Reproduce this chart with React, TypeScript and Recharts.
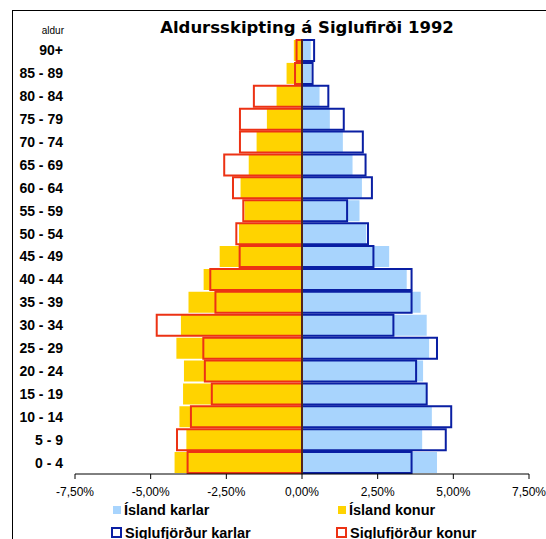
import { BarChart, Bar, XAxis, YAxis, ReferenceLine } from "recharts";

// aldurshópar, neðst til efst
const ageGroups = [
  "0 - 4", "5 - 9", "10 - 14", "15 - 19", "20 - 24", "25 - 29", "30 - 34",
  "35 - 39", "40 - 44", "45 - 49", "50 - 54", "55 - 59", "60 - 64", "65 - 69",
  "70 - 74", "75 - 79", "80 - 84", "85 - 89", "90+",
];

// hlutfall af heildarfjölda (%)
const islandKarlar = [4.46, 3.97, 4.29, 4.12, 4.0, 4.2, 4.12, 3.92, 3.46, 2.88, 2.12, 1.9, 1.98, 1.67, 1.35, 0.92, 0.58, 0.31, 0.29];
const islandKonur = [4.21, 3.82, 4.05, 3.93, 3.9, 4.15, 4.0, 3.75, 3.25, 2.72, 2.08, 1.9, 2.03, 1.76, 1.5, 1.16, 0.84, 0.51, 0.27];
const sigKarlar = [3.62, 4.75, 4.93, 4.12, 3.77, 4.46, 3.02, 3.62, 3.62, 2.36, 2.18, 1.49, 2.31, 2.1, 2.01, 1.38, 0.87, 0.35, 0.4];
const sigKonur = [3.78, 4.13, 3.67, 2.98, 3.21, 3.26, 4.8, 2.86, 3.03, 2.06, 2.17, 1.94, 2.28, 2.57, 2.05, 2.05, 1.59, 0.23, 0.18];

const xTicks = [-7.5, -5, -2.5, 0, 2.5, 5, 7.5];

const LIGHT_BLUE = "#A8D4FD";
const YELLOW = "#FFD300";
const NAVY = "#0A1FA3";
const RED = "#EC3214";

const data = ageGroups.map((age, i) => ({
  age,
  islandKarlar: islandKarlar[i],
  islandKonur: -islandKonur[i],
  sigKarlar: sigKarlar[i],
  sigKonur: -sigKonur[i],
}));

const legendItems = [
  { label: "Ísland karlar", color: LIGHT_BLUE, outline: false },
  { label: "Ísland konur", color: YELLOW, outline: false },
  { label: "Siglufjörður karlar", color: NAVY, outline: true },
  { label: "Siglufjörður konur", color: RED, outline: true },
];

const font = "Arial, 'Liberation Sans', sans-serif";
const fmtPct = (v: number) => v.toFixed(2).replace(".", ",") + "%";

export default function App() {
  return (
    <div
      style={{
        position: "absolute",
        left: 0,
        top: 0,
        width: 546,
        height: 539,
        overflow: "hidden",
        background: "#fff",
        fontFamily: font,
      }}
    >
      {/* ramminn */}
      <div
        style={{
          position: "absolute",
          left: 12,
          top: 10,
          width: 600,
          height: 600,
          border: "1px solid #000",
        }}
      />
      <div
        style={{
          position: "absolute",
          left: 107,
          width: 400,
          top: 18,
          textAlign: "center",
          fontSize: 16.5,
          fontWeight: "bold",
          fontFamily: "'DejaVu Sans', Verdana, sans-serif",
          whiteSpace: "nowrap",
        }}
      >
        Aldursskipting á Siglufirði 1992
      </div>
      <div
        style={{
          position: "absolute",
          left: 0,
          width: 64,
          top: 25,
          textAlign: "right",
          fontSize: 10,
        }}
      >
        aldur
      </div>

      <div style={{ position: "absolute", left: 0, top: 0 }}>
        <BarChart
          width={546}
          height={539}
          data={data}
          layout="vertical"
          stackOffset="sign"
          barGap={-21}
          barSize={21}
          margin={{ top: 39, right: 17, bottom: 0, left: 0 }}
        >
          <XAxis
            type="number"
            domain={[-7.5, 7.5]}
            ticks={xTicks}
            tickFormatter={fmtPct}
            height={65}
            tickSize={5}
            tickMargin={8}
            stroke="#000"
            tick={{ fontSize: 12, fill: "#000", fontFamily: font }}
            allowDataOverflow
          />
          <YAxis
            type="category"
            dataKey="age"
            reversed
            width={75}
            axisLine={false}
            tickLine={false}
            tickSize={0}
            tickMargin={12}
            interval={0}
            tick={{ fontSize: 14, fontWeight: "bold", fill: "#000", fontFamily: font }}
          />
          <Bar dataKey="islandKarlar" stackId="is" fill={LIGHT_BLUE} isAnimationActive={false} />
          <Bar dataKey="islandKonur" stackId="is" fill={YELLOW} isAnimationActive={false} />
          <Bar
            dataKey="sigKarlar"
            stackId="sig"
            fill="none"
            stroke={NAVY}
            strokeWidth={2}
            isAnimationActive={false}
          />
          <Bar
            dataKey="sigKonur"
            stackId="sig"
            fill="none"
            stroke={RED}
            strokeWidth={2}
            isAnimationActive={false}
          />
          <ReferenceLine x={0} stroke="#222" strokeWidth={1.5} />
        </BarChart>
      </div>

      {/* skýringar */}
      <div
        style={{
          position: "absolute",
          left: 111,
          top: 500,
          display: "grid",
          gridTemplateColumns: "225px 200px",
          rowGap: 4,
          fontSize: 14.5,
          fontWeight: "bold",
        }}
      >
        {legendItems.map((it) => (
          <div key={it.label} style={{ display: "flex", alignItems: "center", height: 19 }}>
            <span
              style={{
                display: "inline-block",
                width: it.outline ? 7 : 8,
                height: it.outline ? 7 : 8,
                marginLeft: it.outline ? 0 : 2,
                marginRight: 3,
                background: it.outline ? "#fff" : it.color,
                border: it.outline ? `2px solid ${it.color}` : "none",
              }}
            />
            {it.label}
          </div>
        ))}
      </div>
    </div>
  );
}
